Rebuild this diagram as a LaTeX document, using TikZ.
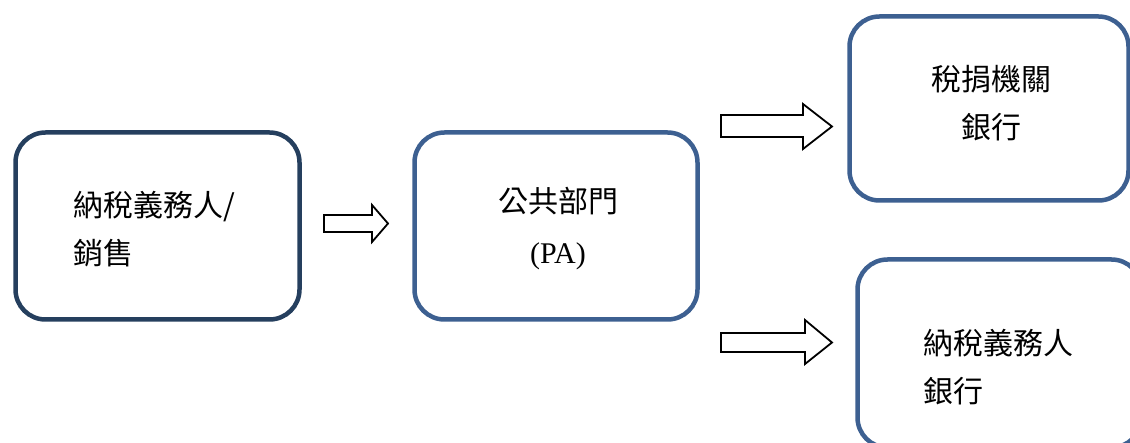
\documentclass[tikz,border=0pt]{standalone}
\usepackage{fontspec}
\setmainfont{Liberation Serif}
\newfontfamily\cjk{Noto Sans CJK TC}
\definecolor{boxdark}{HTML}{253F5E}
\definecolor{boxblue}{HTML}{3D6091}
\begin{document}
\begin{tikzpicture}[x=1pt,y=-1pt,
  boxA/.style={draw=boxdark, line width=4.5pt, rounded corners=30pt, fill=white, inner sep=0pt},
  boxB/.style={boxA, draw=boxblue},
  blockarrow/.style={draw=black, line width=1.8pt, fill=white, line join=miter},
  txt/.style={font=\cjk\fontsize{30}{48}\selectfont, inner sep=0pt}]
\useasboundingbox (0,0) rectangle (1130,443);
\clip (0,0) rectangle (1130,443);
% boxes
\node[boxA, minimum width=284pt, minimum height=187pt] (b1) at (157.5,226) {};
\node[boxB, minimum width=283pt, minimum height=187pt] (b2) at (556,226) {};
\node[boxB, minimum width=279pt, minimum height=184pt] (b3) at (989,108.5) {};
\node[boxB, minimum width=284pt, minimum height=188pt] (b4) at (999.5,353.5) {};
% texts
\node[txt, align=left] (t1) at (154,229) {納稅義務人/\\銷售};
\node[txt, align=center, font=\fontsize{30}{51}\selectfont] (t2) at (558,229) {{\cjk 公共部門}\\(PA)};
\node[txt, align=center] (t3) at (991.5,103) {稅捐機關\\銀行};
\node[txt, align=left] (t4) at (998,367.5) {納稅義務人\\銀行};
% block arrows
\draw[blockarrow] (324,215) -- (372,215) -- (372,205) -- (388,223.5) -- (372,242) -- (372,232) -- (324,232) -- cycle;
\draw[blockarrow] (721,115) -- (803,115) -- (803,104) -- (832,126.5) -- (803,149) -- (803,137) -- (721,137) -- cycle;
\draw[blockarrow] (721,333) -- (805,333) -- (805,320) -- (832,342.5) -- (805,364) -- (805,352) -- (721,352) -- cycle;
\end{tikzpicture}
\end{document}
